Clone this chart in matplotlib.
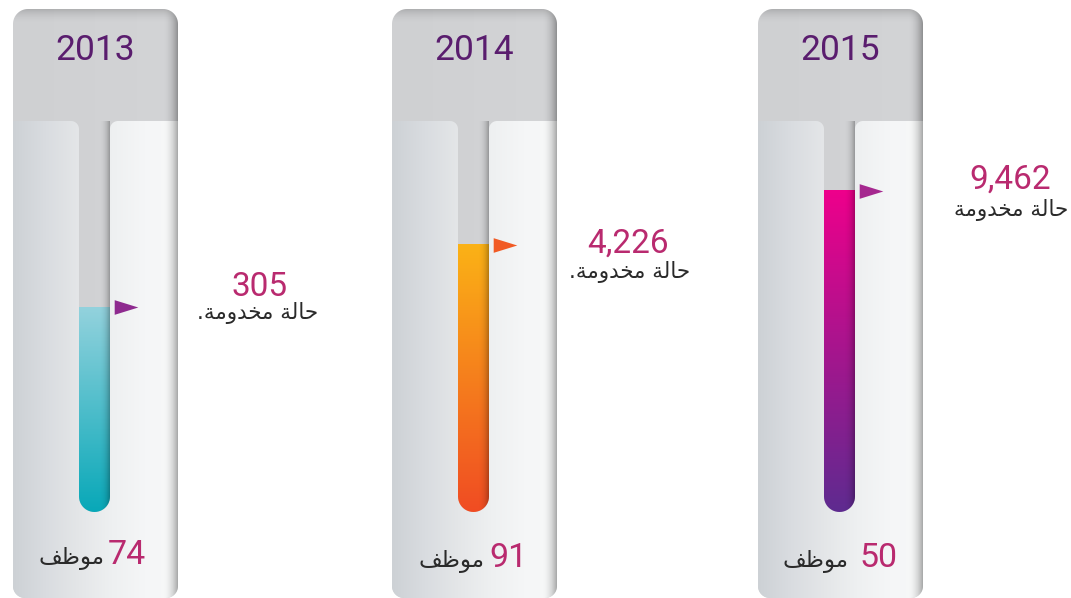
import numpy as np
import matplotlib
matplotlib.use("Agg")
import matplotlib.pyplot as plt
from matplotlib.patches import PathPatch
from matplotlib.path import Path
from matplotlib.colors import to_rgb

years = ["2013", "2014", "2015"]
cases = [305, 4226, 9462]
staff = [74, 91, 50]
fill_level = [0.524, 0.683, 0.821]  # share of the tube that is filled
fill_top = ["#93d2dd", "#fbb216", "#ee008b"]
fill_bottom = ["#08a8b8", "#f04c23", "#5e2b90"]
arrow_col = ["#8e2a8f", "#f15a24", "#a5288f"]

# arabic words, pre-shaped (presentation forms) and written in visual order
cases_word = "\ufe94\ufee3\ufeed\ufeaa\ufea8\ufee3 \ufe94\ufedf\ufe8e\ufea3"
cases_dot = [True, True, False]
staff_word = "\ufed2\ufec7\ufeee\ufee3"

PINK = "#b92a6f"
PURPLE = "#5a1d6e"
DARK = "#2a2a2a"
NUM_FONT = ["Roboto", "DejaVu Sans"]

panel_x = [13, 392, 758]
PW = 165
TUBE_L, TUBE_R = 66, 97
TUBE_TOP, TUBE_BOT = 121, 512

value_pos = [(260, 296), (628, 253), (1010, 189)]
label_pos = [(258, 319), (630, 278), (1011, 216)]
staff_num_x = [146, 528, 897]
staff_word_x = [104, 484, 849]
staff_y = [564, 567, 567]


def arc(cx, cy, r, a0, a1):
    # y grows downwards here (axis is inverted)
    a = np.radians(np.linspace(a0, a1, 14))
    return list(zip(cx + r * np.cos(a), cy + r * np.sin(a)))


def rrect(x0, y0, x1, y1, tl=0, tr=0, br=0, bl=0):
    pts = arc(x0 + tl, y0 + tl, tl, 180, 270)
    pts += arc(x1 - tr, y0 + tr, tr, 270, 360)
    pts += arc(x1 - br, y1 - br, br, 0, 90)
    pts += arc(x0 + bl, y1 - bl, bl, 90, 180)
    return Path(pts + [pts[0]], closed=True)


def body(x0, y0, y1, sl, sr, sb, f=8, r=12):
    # lower body of a panel with the slot for the tube cut out of it
    rad = (sr - sl) / 2
    pts = [(x0, y0)]
    pts += arc(sl - f, y0 + f, f, 270, 360)
    pts += arc(sl + rad, sb - rad, rad, 180, 0)
    pts += arc(sr + f, y0 + f, f, 180, 270)
    pts += [(x0 + PW, y0)]
    pts += arc(x0 + PW - r, y1 - r, r, 0, 90)
    pts += arc(x0 + r, y1 - r, r, 90, 180)
    return Path(pts + [pts[0]], closed=True)


def clipper(ax, path):
    p = PathPatch(path, fc="none", ec="none", transform=ax.transData)
    ax.add_patch(p)
    return p


def ramp(stops, n=256):
    t = np.linspace(0, 1, n)
    pos = [s[0] for s in stops]
    cols = np.array([to_rgb(s[1]) for s in stops])
    return np.stack([np.interp(t, pos, cols[:, i]) for i in range(3)], axis=-1)


def grad(ax, box, stops, clip, vertical=False, z=1):
    x0, y0, x1, y1 = box
    c = ramp(stops)
    img = c[:, None, :].repeat(2, 1) if vertical else c[None, :, :].repeat(2, 0)
    im = ax.imshow(img, extent=(x0, x1, y1, y0), aspect="auto",
                   interpolation="bilinear", zorder=z)
    im.set_clip_path(clip)


def shade(ax, box, alpha, clip, vertical=False, z=5):
    x0, y0, x1, y1 = box
    a = np.asarray(alpha)
    img = np.zeros((2, len(a), 4))
    img[..., 3] = a
    if vertical:
        img = np.transpose(img, (1, 0, 2))
    im = ax.imshow(img, extent=(x0, x1, y1, y0), aspect="auto",
                   interpolation="bilinear", zorder=z)
    im.set_clip_path(clip)


fig = plt.figure(figsize=(10.71, 5.98), dpi=100)
ax = fig.add_axes([0, 0, 1, 1])
t = np.linspace(0, 1, 32)

for i, x0 in enumerate(panel_x):
    panel = clipper(ax, rrect(x0, 9, x0 + PW, 598, 15, 15, 12, 12))
    grad(ax, (x0, 9, x0 + PW, 598), [(0, "#cfd0d2"), (1, "#d3d4d6")], panel)
    shade(ax, (x0, 9, x0 + PW, 24), 0.16 * (1 - t) ** 2, panel, vertical=True, z=2)

    lower = clipper(ax, body(x0, TUBE_TOP, 598, x0 + TUBE_L, x0 + TUBE_R, TUBE_BOT))
    grad(ax, (x0, TUBE_TOP, x0 + PW, 598),
         [(0, "#cdd1d5"), (0.2, "#d9dce0"), (0.4, "#e4e6e8"),
          (0.6, "#eef0f1"), (0.8, "#f5f6f7"), (1, "#f7f8f8")], lower, z=3)

    # tube fill
    tube = clipper(ax, rrect(x0 + TUBE_L, TUBE_TOP, x0 + TUBE_R, TUBE_BOT, 0, 0, 15.5, 15.5))
    top_y = TUBE_BOT - fill_level[i] * (TUBE_BOT - TUBE_TOP)
    grad(ax, (x0 + TUBE_L, top_y, x0 + TUBE_R, TUBE_BOT),
         [(0, fill_top[i]), (1, fill_bottom[i])], tube, vertical=True, z=3)
    shade(ax, (x0 + TUBE_R - 12, TUBE_TOP, x0 + TUBE_R, TUBE_BOT),
          0.28 * t ** 2.5, tube, z=4)

    # dark right edge of the whole panel
    shade(ax, (x0 + PW - 16, 9, x0 + PW, 598), 0.32 * t ** 2.2, panel, z=5)

    # level marker
    ax.plot([x0 + TUBE_R + 16], [top_y], marker=[(-1, -0.62), (1, 0), (-1, 0.62)],
            ms=17, color=arrow_col[i], mec="none", zorder=6)

    ax.text(x0 + PW / 2, 60, years[i], ha="center", va="baseline", fontsize=25.5,
            color=PURPLE, family=NUM_FONT, zorder=7)

    vx, vy = value_pos[i]
    ax.text(vx, vy, f"{cases[i]:,}", ha="center", va="baseline", fontsize=24,
            color=PINK, family=NUM_FONT, zorder=7)
    lx, ly = label_pos[i]
    word = ("." if cases_dot[i] else "") + cases_word
    ax.text(lx, ly, word, ha="center", va="baseline", fontsize=15.5,
            color=DARK, family="DejaVu Sans", zorder=7)

    ax.text(staff_num_x[i], staff_y[i], str(staff[i]), ha="right", va="baseline",
            fontsize=24.5, color=PINK, family=NUM_FONT, zorder=7)
    ax.text(staff_word_x[i], staff_y[i], staff_word, ha="right", va="baseline",
            fontsize=16.5, color=DARK, family="DejaVu Sans", zorder=7)

ax.set_xlim(0, 1071)
ax.set_ylim(598, 0)
ax.axis("off")
fig.savefig("out.png", dpi=100, facecolor="white")
